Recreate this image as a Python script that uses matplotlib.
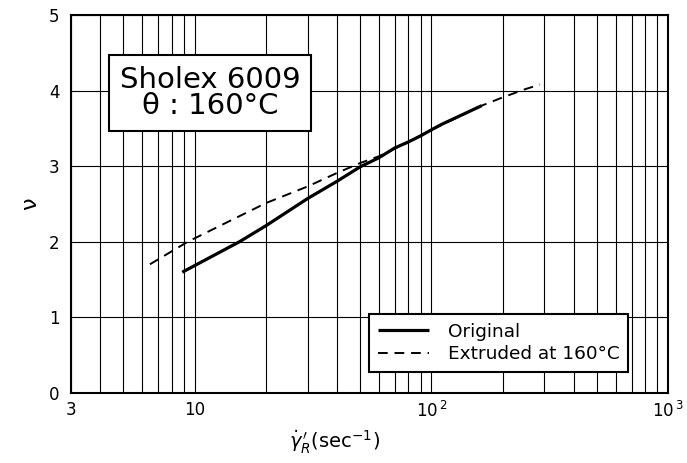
import matplotlib
matplotlib.use("Agg")
import matplotlib.pyplot as plt
from matplotlib.ticker import FixedLocator, LogLocator, NullFormatter

plt.rcParams['font.family'] = ['DejaVu Sans']

# Data
orig_x = [8.87, 15.5, 20, 30, 40, 50, 60, 70, 80, 90, 100, 110, 163]
orig_y = [1.595, 2.0, 2.21, 2.57, 2.80, 2.99, 3.11, 3.24, 3.32, 3.40, 3.48, 3.55, 3.80]

extr_x = [6.48, 9.38, 20, 30, 40, 50, 60, 80, 100, 163, 200, 250, 287]
extr_y = [1.70, 2.0, 2.51, 2.73, 2.91, 3.04, 3.13, 3.32, 3.48, 3.80, 3.91, 4.02, 4.08]

xticks = [3, 10, 100, 1000]
xticklabels = ["3", "10", r"$10^{\,2}$", r"$10^{\,3}$"]
yticks = [0, 1, 2, 3, 4, 5]

fig = plt.figure(figsize=(6.87, 4.63), dpi=100)
ax = fig.add_axes([0.1029, 0.1518, 0.8699, 0.8158])

ax.set_xscale('log')
ax.set_xlim(3, 1000)
ax.set_ylim(0, 5)

ax.plot(orig_x, orig_y, color='black', lw=2.3, ls='-', label='Original', solid_capstyle='butt')
ax.plot(extr_x, extr_y, color='black', lw=1.4, ls=(0, (5, 3.5)), label='Extruded at 160°C')

ax.xaxis.set_major_locator(FixedLocator(xticks))
ax.set_xticklabels(xticklabels)
ax.xaxis.set_minor_locator(LogLocator(base=10, subs=[2, 3, 4, 5, 6, 7, 8, 9], numticks=20))
ax.xaxis.set_minor_formatter(NullFormatter())
ax.set_yticks(yticks)

ax.grid(True, which='both', axis='x', color='black', lw=0.8)
ax.grid(True, which='major', axis='y', color='black', lw=0.8)
ax.tick_params(which='both', length=0, labelsize=12, pad=6)
ax.tick_params(axis='y', pad=8)

for s in ax.spines.values():
    s.set_linewidth(1.5)

ax.set_ylabel("ν", fontsize=16, labelpad=6)
ax.set_xlabel(r"$\dot{\gamma}_R^{\,\prime}$(sec$^{-1}$)", fontsize=14)
ax.xaxis.set_label_coords(0.442, -0.095)

ax.text(0.233, 0.7935, "Sholex 6009\nθ : 160°C", transform=ax.transAxes,
        ha='center', va='center', fontsize=21, linespacing=0.9,
        bbox=dict(boxstyle='square,pad=0.38', facecolor='white', edgecolor='black', lw=1.5))

leg = ax.legend(loc='lower right', bbox_to_anchor=(0.9326, 0.0556), borderaxespad=0,
                fontsize=13.3, frameon=True, fancybox=False, edgecolor='black', framealpha=1,
                handlelength=2.8, handletextpad=1.0, borderpad=0.45, labelspacing=0.25)
leg.get_frame().set_linewidth(1.5)

fig.savefig("out.png", dpi=100)
